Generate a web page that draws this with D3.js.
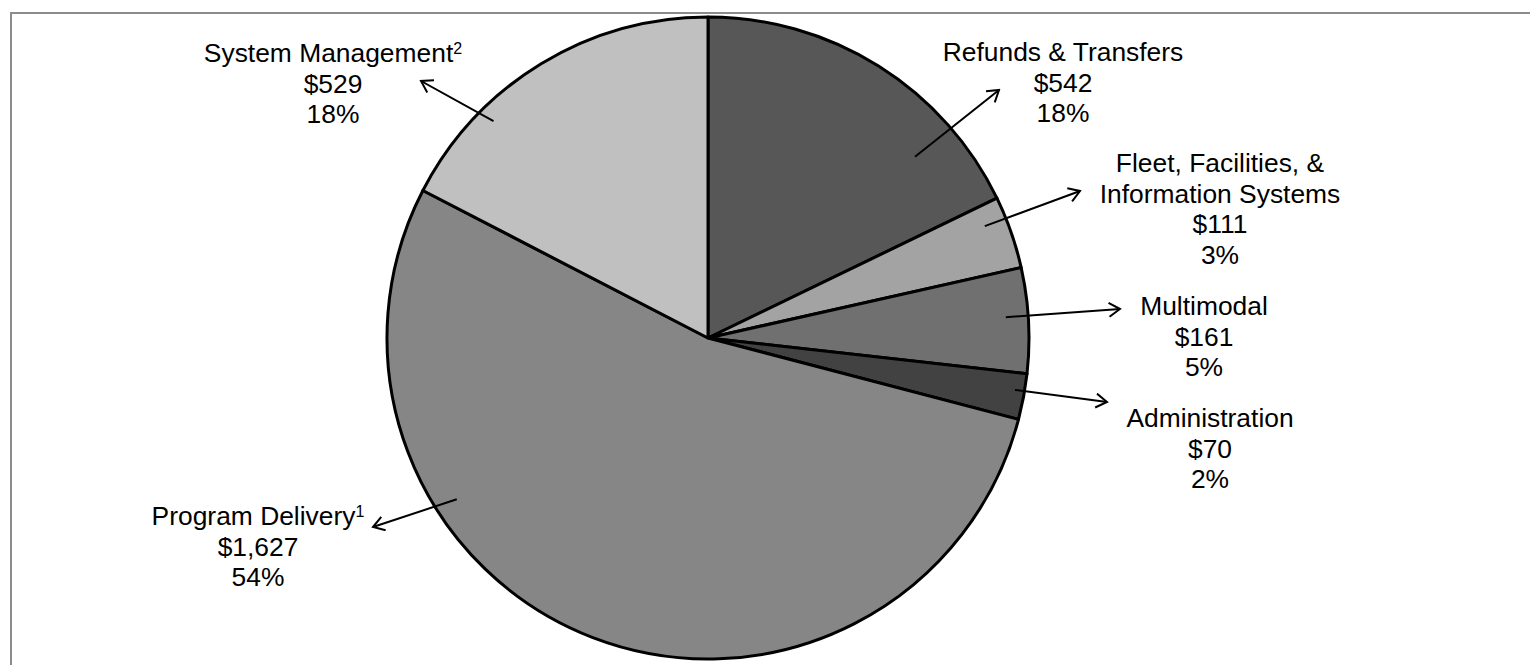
<!DOCTYPE html>
<html>
<head>
<meta charset="utf-8">
<script src="https://cdn.jsdelivr.net/npm/d3@7"></script>
<style>
  body { margin: 0; background: #fff; }
  svg { display: block; font-family: "Liberation Sans", Arial, sans-serif; }
</style>
</head>
<body>
<div id="chart"></div>
<script>
// categories, amounts (in order, clockwise from 12 o'clock), and footnote marks
const categories = ["Refunds & Transfers", "Fleet, Facilities, & Information Systems", "Multimodal", "Administration", "Program Delivery", "System Management"];
const amounts = [542, 111, 161, 70, 1627, 529];
const percentLabels = ["18%", "3%", "5%", "2%", "54%", "18%"];
const footnotes = ["", "", "", "", "1", "2"];
const sliceColors = ["#575757", "#a3a3a3", "#707070", "#424242", "#868686", "#c0c0c0"];

// label placement (text block centre / first baseline, arrow start in pie polar terms, arrow tip)
const labelLayout = [
  { lines: ["Refunds & Transfers"], x: 1063, y: 61, startDeg: 48.8, startR: 0.857, tip: [999, 90] },
  { lines: ["Fleet, Facilities, &", "Information Systems"], x: 1220, y: 172, startDeg: 68, startR: 0.93, tip: [1080, 191] },
  { lines: ["Multimodal"], x: 1204, y: 315, startDeg: 86, startR: 0.93, tip: [1120, 309] },
  { lines: ["Administration"], x: 1210, y: 427, startDeg: 99.6, startR: 0.97, tip: [1107, 402] },
  { lines: ["Program Delivery"], x: 258, y: 525, startDeg: 237.3, startR: 0.93, tip: [373, 527] },
  { lines: ["System Management"], x: 333, y: 62, startDeg: 315.3, startR: 0.95, tip: [421, 81] }
];

const width = 1530, height = 665;
const cx = 708, cy = 338, radius = 321;
const lineH = 30.5;

const svg = d3.select("#chart")
  .append("svg")
  .attr("width", width)
  .attr("height", height);

// outer frame (only top & left edges visible)
svg.append("rect")
  .attr("x", 11).attr("y", 13)
  .attr("width", width + 20).attr("height", height + 20)
  .attr("fill", "none")
  .attr("stroke", "#8c8c8c")
  .attr("stroke-width", 2);

svg.append("defs").append("marker")
  .attr("id", "arrow")
  .attr("viewBox", "-12 -8 14 16")
  .attr("refX", 0).attr("refY", 0)
  .attr("markerWidth", 14).attr("markerHeight", 16)
  .attr("markerUnits", "userSpaceOnUse")
  .attr("orient", "auto")
  .append("path")
  .attr("d", "M-11,-7 L0,0 L-11,7")
  .attr("fill", "none")
  .attr("stroke", "#000")
  .attr("stroke-width", 2);

const data = categories.map((c, i) => ({ name: c, value: amounts[i], i: i }));

const pie = d3.pie().sort(null).value((d) => d.value);
const arc = d3.arc().innerRadius(0).outerRadius(radius);

const g = svg.append("g").attr("transform", "translate(" + cx + "," + cy + ")");

g.selectAll("path")
  .data(pie(data))
  .enter()
  .append("path")
  .attr("d", arc)
  .attr("fill", (d) => sliceColors[d.data.i])
  .attr("stroke", "#000")
  .attr("stroke-width", 3)
  .attr("stroke-linejoin", "round");

// arrows
labelLayout.forEach((l) => {
  const a = l.startDeg * Math.PI / 180;
  const sx = cx + Math.sin(a) * radius * l.startR;
  const sy = cy - Math.cos(a) * radius * l.startR;
  svg.append("line")
    .attr("x1", sx).attr("y1", sy)
    .attr("x2", l.tip[0]).attr("y2", l.tip[1])
    .attr("stroke", "#000")
    .attr("stroke-width", 2)
    .attr("marker-end", "url(#arrow)");
});

// labels
labelLayout.forEach((l, i) => {
  const t = svg.append("text")
    .attr("text-anchor", "middle")
    .attr("font-size", 26.4)
    .attr("fill", "#000");
  const allLines = l.lines.concat(["$" + d3.format(",")(amounts[i]), percentLabels[i]]);
  allLines.forEach((txt, k) => {
    t.append("tspan")
      .attr("x", l.x)
      .attr("y", l.y + k * lineH)
      .text(txt);
    if (k === 0 && footnotes[i]) {
      t.append("tspan")
        .attr("font-size", 16)
        .attr("dy", -8)
        .text(footnotes[i]);
    }
  });
});
</script>
</body>
</html>
